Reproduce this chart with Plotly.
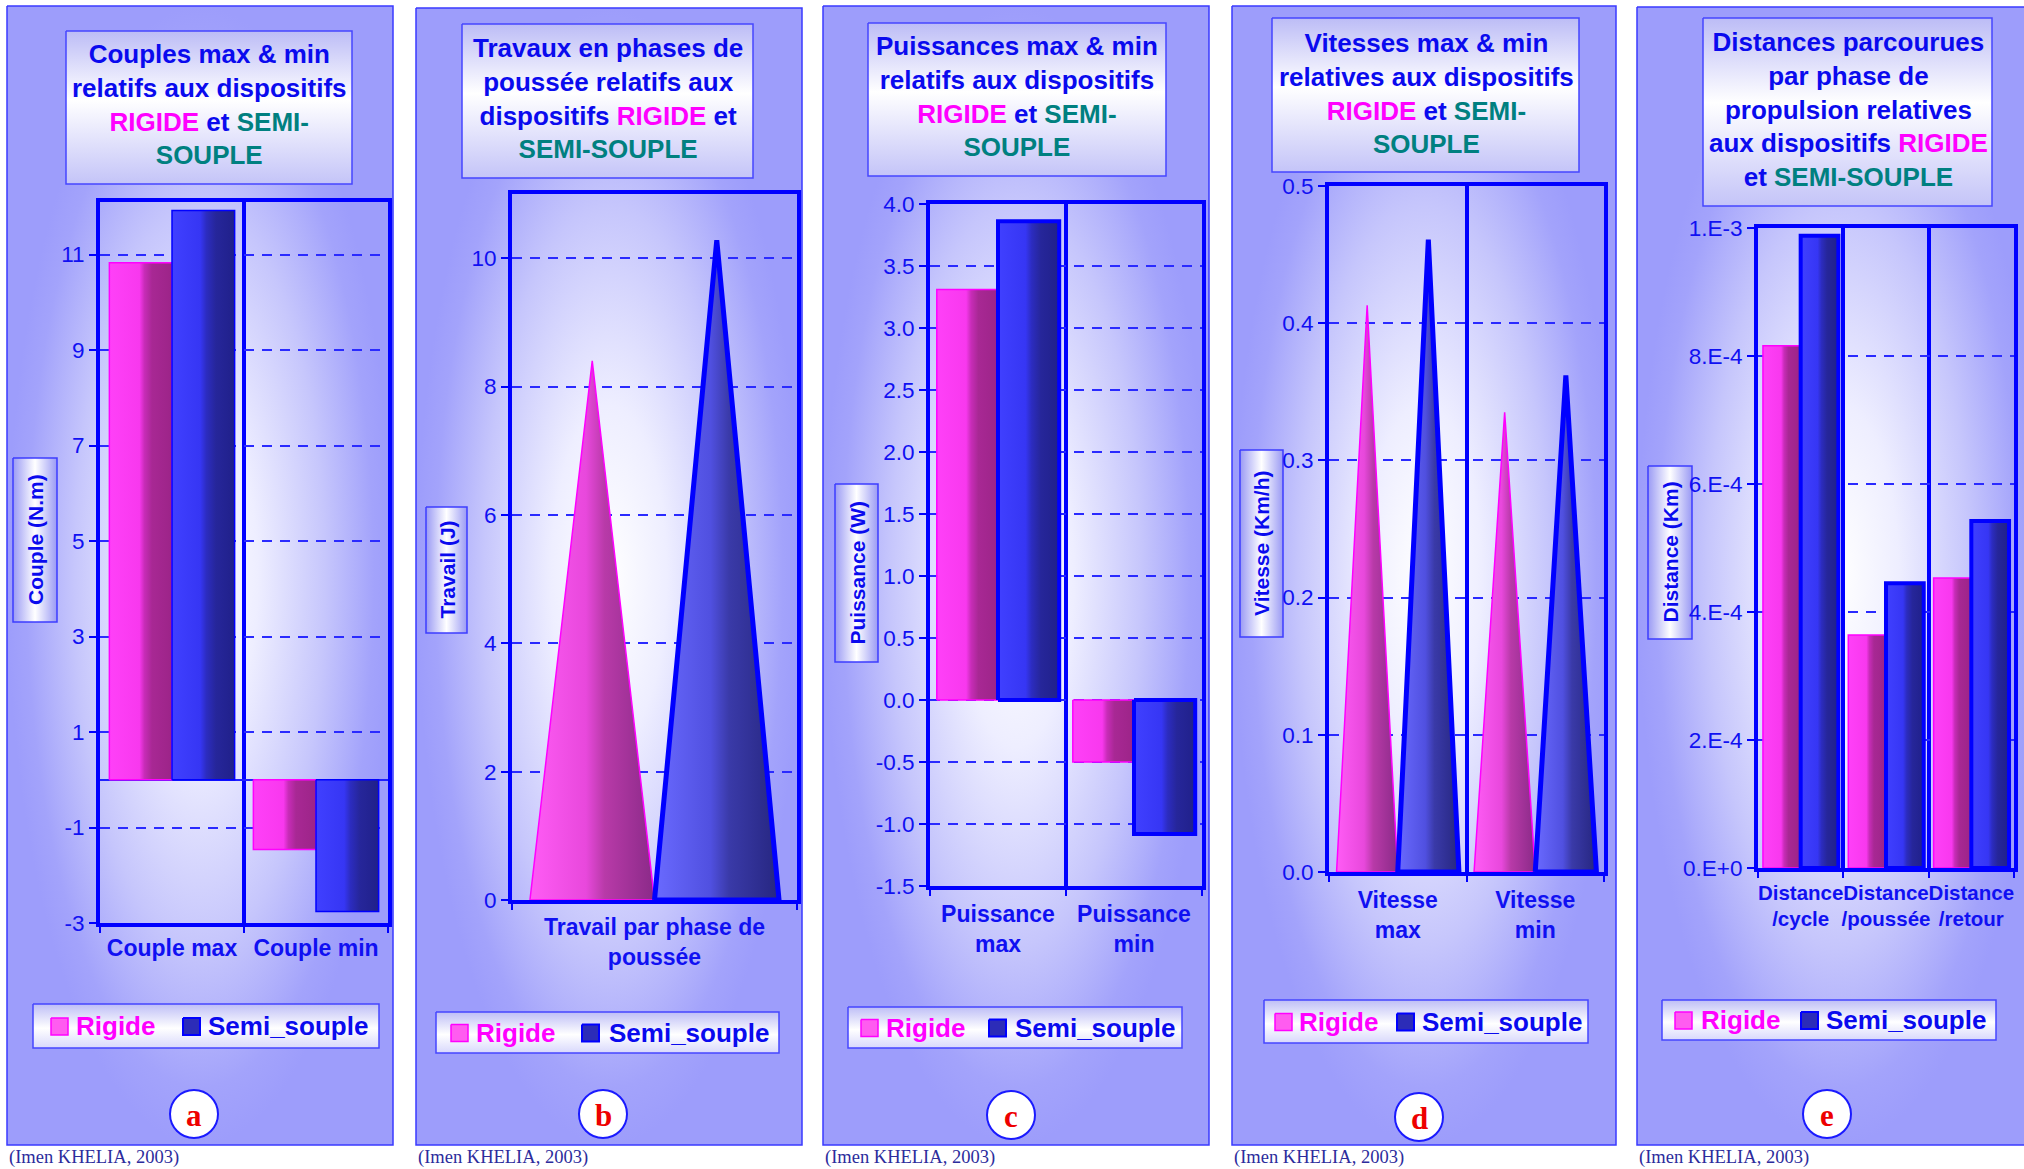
import plotly.graph_objects as go

W, H = 2024, 1169
SANS = "Liberation Sans, Arial, sans-serif"
SERIF = "Liberation Serif, Times New Roman, serif"
BLUE = "#0000ff"
TXT_BLUE = "#1010f2"
MAGENTA = "#ff00ff"
TEAL = "#008080"

# ------------------------------------------------------------------ data
series_names = ["Rigide", "Semi_souple"]

couple_categories = ["Couple max", "Couple min"]
couple_rigide = [10.83, -1.46]
couple_semi_souple = [11.92, -2.76]
couple_ticks = [-3, -1, 1, 3, 5, 7, 9, 11]
couple_tick_labels = ["-3", "-1", "1", "3", "5", "7", "9", "11"]

travail_categories = ["Travail par phase de\npoussée"]
travail_rigide = [8.40]
travail_semi_souple = [10.28]
travail_ticks = [0, 2, 4, 6, 8, 10]
travail_tick_labels = ["0", "2", "4", "6", "8", "10"]

puissance_categories = ["Puissance\nmax", "Puissance\nmin"]
puissance_rigide = [3.31, -0.50]
puissance_semi_souple = [3.86, -1.08]
puissance_ticks = [-1.5, -1.0, -0.5, 0.0, 0.5, 1.0, 1.5, 2.0, 2.5, 3.0, 3.5, 4.0]
puissance_tick_labels = ["-1.5", "-1.0", "-0.5", "0.0", "0.5", "1.0", "1.5",
                         "2.0", "2.5", "3.0", "3.5", "4.0"]

vitesse_categories = ["Vitesse\nmax", "Vitesse\nmin"]
vitesse_rigide = [0.413, 0.335]
vitesse_semi_souple = [0.461, 0.362]
vitesse_ticks = [0.0, 0.1, 0.2, 0.3, 0.4, 0.5]
vitesse_tick_labels = ["0.0", "0.1", "0.2", "0.3", "0.4", "0.5"]

distance_categories = ["Distance\n/cycle", "Distance\n/poussée", "Distance\n/retour"]
distance_rigide = [8.16e-4, 3.64e-4, 4.53e-4]
distance_semi_souple = [9.88e-4, 4.45e-4, 5.42e-4]
distance_ticks = [0, 2e-4, 4e-4, 6e-4, 8e-4, 1e-3]
distance_tick_labels = ["0.E+0", "2.E-4", "4.E-4", "6.E-4", "8.E-4", "1.E-3"]

R = f'<span style="color:{MAGENTA}">RIGIDE</span>'
S = lambda t: f'<span style="color:{TEAL}">{t}</span>'
panel_titles = [
    f"Couples max &amp; min<br>relatifs aux dispositifs<br>{R} et {S('SEMI-')}<br>{S('SOUPLE')}",
    f"Travaux en phases de<br>poussée relatifs aux<br>dispositifs {R} et<br>{S('SEMI-SOUPLE')}",
    f"Puissances max &amp; min<br>relatifs aux dispositifs<br>{R} et {S('SEMI-')}<br>{S('SOUPLE')}",
    f"Vitesses max &amp; min<br>relatives aux dispositifs<br>{R} et {S('SEMI-')}<br>{S('SOUPLE')}",
    f"Distances parcourues<br>par phase de<br>propulsion relatives<br>aux dispositifs {R}<br>et {S('SEMI-SOUPLE')}",
]
y_titles = ["Couple (N.m)", "Travail (J)", "Puissance (W)", "Vitesse (Km/h)", "Distance (Km)"]
panel_letters = ["a", "b", "c", "d", "e"]
source_note = "(Imen KHELIA, 2003)"

datasets = [
    (couple_categories, couple_rigide, couple_semi_souple, couple_ticks, couple_tick_labels),
    (travail_categories, travail_rigide, travail_semi_souple, travail_ticks, travail_tick_labels),
    (puissance_categories, puissance_rigide, puissance_semi_souple, puissance_ticks, puissance_tick_labels),
    (vitesse_categories, vitesse_rigide, vitesse_semi_souple, vitesse_ticks, vitesse_tick_labels),
    (distance_categories, distance_rigide, distance_semi_souple, distance_ticks, distance_tick_labels),
]

# ------------------------------------------------------------------ layout geometry (pixels)
PANELS = [
    dict(frame=(7, 6, 393, 1145), tbox=(66, 31, 352, 184), tc=(209, 104), plot=(100, 202, 388, 923),
         yr=(-3, 12.1), ybox=(13, 458, 57, 622), leg=(33, 1004, 379, 1048), sq=(51, 183), tx=(74, 206),
         circ=(194, 1114), kind="bar", gap=0.13, semi_lw=1.5, zero=True, xstand=1, xfs=23),
    dict(frame=(416, 8, 802, 1145), tbox=(462, 24, 753, 178), tc=(608, 98.5), plot=(512, 194, 797, 900),
         yr=(0, 11.0), ybox=(426, 507, 467, 633), leg=(436, 1012, 779, 1053), sq=(451, 582), tx=(474, 607),
         circ=(603, 1114), kind="tri", gap=0.126, semi_lw=5, zero=False, xstand=3, xfs=23),
    dict(frame=(823, 6, 1209, 1145), tbox=(868, 23, 1166, 176), tc=(1017, 96), plot=(930, 204, 1202, 886),
         yr=(-1.5, 4.0), ybox=(835, 484, 878, 662), leg=(848, 1007, 1182, 1048), sq=(861, 989), tx=(884, 1013),
         circ=(1011, 1115), kind="bar", gap=0.10, semi_lw=4, zero=False, xstand=4, xfs=23),
    dict(frame=(1232, 6, 1616, 1145), tbox=(1272, 18, 1579, 172), tc=(1426, 93), plot=(1329, 186, 1604, 872),
         yr=(0, 0.5), ybox=(1240, 450, 1283, 637), leg=(1264, 1000, 1588, 1043), sq=(1275, 1397), tx=(1297, 1420),
         circ=(1419, 1117), kind="tri", gap=0.11, semi_lw=5, zero=False, xstand=4, xfs=23),
    dict(frame=(1637, 7, 2040, 1145), tbox=(1703, 18, 1992, 206), tc=(1848, 109.5), plot=(1758, 228, 2014, 868),
         yr=(0, 1e-3), ybox=(1648, 466, 1692, 639), leg=(1662, 1000, 1996, 1040), sq=(1675, 1801), tx=(1699, 1824),
         circ=(1827, 1114), kind="bar", gap=0.116, semi_lw=4, zero=False, xstand=3, xfs=20.5),
]

BG_SCALE = [[0, "#ffffff"], [0.3, "#eeeeff"], [0.65, "#c6c6fc"], [0.9, "#a3a3fb"], [1, "#9d9dfb"]]
TITLE_SCALE = [[0, "#c4c4f8"], [0.55, "#ffffff"], [1, "#bcbcf6"]]
YT_SCALE = [[0, "#9a9af4"], [0.5, "#ffffff"], [1, "#9a9af4"]]
LEG_SCALE = [[0, "#d8d8fc"], [0.45, "#ffffff"], [1, "#bebef6"]]
BAR_PINK = [[0, "#ff40f8"], [0.48, "#f838ee"], [0.56, "#c82cb8"], [0.68, "#a82894"], [1, "#9c2488"]]
BAR_BLUE = [[0, "#4040ff"], [0.45, "#3636f4"], [0.55, "#2c2cc0"], [0.7, "#26269a"], [1, "#20208a"]]
TRI_PINK = [[0, "#ff5cf5"], [0.45, "#e848dc"], [0.6, "#b83aa8"], [1, "#8a2a88"]]
TRI_BLUE = [[0, "#6a6aff"], [0.45, "#5050e0"], [0.6, "#3a3aa8"], [1, "#262680"]]

traces, annotations, shapes = [], [], []


def page_rect(x0, y0, x1, y1, scale=None, gtype=None, fill=None, lc=None, lw=0):
    kw = dict(x=[x0, x1, x1, x0, x0], y=[y0, y0, y1, y1, y0], xaxis="x", yaxis="y",
              mode="lines", fill="toself", hoverinfo="skip", showlegend=False,
              line=dict(color=lc or "rgba(0,0,0,0)", width=lw))
    if scale is not None:
        kw["fillgradient"] = dict(type=gtype, colorscale=scale)
        kw["fillcolor"] = scale[-1][1]
    else:
        kw["fillcolor"] = fill
    traces.append(go.Scatter(**kw))


layout_axes = {}
for p, (P, (cats, rig, semi, tvals, tlabels)) in enumerate(zip(PANELS, datasets)):
    j = p + 2
    fx0, fy0, fx1, fy1 = P["frame"]
    page_rect(fx0, fy0, fx1, fy1, BG_SCALE, "radial", lc="#3a3aff", lw=1.5)
    page_rect(*P["tbox"], TITLE_SCALE, "vertical", lc="#4646ff", lw=1.5)
    page_rect(*P["ybox"], YT_SCALE, "horizontal", lc="#3c3cff", lw=1.5)
    lx0, ly0, lx1, ly1 = P["leg"]
    page_rect(lx0, ly0, lx1, ly1, LEG_SCALE, "vertical", lc="#4646ff", lw=1.5)
    lyc = (ly0 + ly1) / 2
    page_rect(P["sq"][0], lyc - 8, P["sq"][0] + 17, lyc + 9, fill="#ff5cf0", lc=MAGENTA, lw=1.5)
    page_rect(P["sq"][1], lyc - 8, P["sq"][1] + 17, lyc + 9, fill="#2c2cb8", lc=BLUE, lw=2)

    # ---- data marks (bars / pyramids) built from the data arrays in axis units
    half = (1 - P["gap"]) / 2
    for k, vals in enumerate([rig, semi]):
        if P["kind"] == "bar":
            cs = BAR_PINK if k == 0 else BAR_BLUE
        else:
            cs = TRI_PINK if k == 0 else TRI_BLUE
        lc = MAGENTA if k == 0 else BLUE
        lw = 1.5 if k == 0 else P["semi_lw"]
        for i, v in enumerate(vals):
            left = i - half if k == 0 else i
            right = left + half
            if P["kind"] == "bar":
                xs = [left, left, right, right, left]
                ys = [0, v, v, 0, 0]
            else:
                xs = [left, (left + right) / 2, right, left]
                ys = [0, v, 0, 0]
            traces.append(go.Scatter(
                x=xs, y=ys, xaxis=f"x{j}", yaxis=f"y{j}", mode="lines", fill="toself",
                fillgradient=dict(type="horizontal", colorscale=cs), fillcolor=cs[1][1],
                line=dict(color=lc, width=lw), name=series_names[k],
                hoverinfo="skip", showlegend=False))

    px0, py0, px1, py1 = P["plot"]
    n = len(cats)
    layout_axes[f"xaxis{j}"] = dict(
        domain=[px0 / W, px1 / W], anchor=f"y{j}", range=[-0.5, n - 0.5],
        tickmode="array", tickvals=list(range(n)), ticktext=[c.replace("\n", "<br>") for c in cats],
        tickangle=0, ticks="", showgrid=False, zeroline=False, automargin=False,
        tickfont=dict(family=SANS, size=P["xfs"], color=TXT_BLUE, weight="bold"),
        ticklabelstandoff=P["xstand"],
        showline=True, linecolor=BLUE, linewidth=4, mirror=True,
        minor=dict(tickmode="linear", tick0=-0.5, dtick=1, showgrid=True, gridcolor=BLUE, gridwidth=4,
                   ticks="outside", ticklen=6, tickwidth=2, tickcolor=BLUE),
        fixedrange=True)
    layout_axes[f"yaxis{j}"] = dict(
        domain=[1 - py1 / H, 1 - py0 / H], anchor=f"x{j}", range=list(P["yr"]),
        tickmode="array", tickvals=tvals, ticktext=tlabels, automargin=False,
        ticks="outside", ticklen=7, tickwidth=2, tickcolor=BLUE, ticklabelstandoff=0,
        tickfont=dict(family=SANS, size=22.5, color=TXT_BLUE),
        showgrid=True, gridcolor="#2a2aff", gridwidth=1.6, griddash="10px,8px",
        zeroline=P["zero"], zerolinecolor="#2020ff", zerolinewidth=1.5,
        showline=True, linecolor=BLUE, linewidth=4, mirror=True, fixedrange=True)

    # ---- texts
    annotations.append(dict(x=P["tc"][0], y=P["tc"][1], xref="x", yref="y", text=panel_titles[p],
                            showarrow=False, xanchor="center", yanchor="middle", align="center",
                            font=dict(family=SANS, size=26, color="#0a0aee", weight="bold")))
    bx0, by0, bx1, by1 = P["ybox"]
    annotations.append(dict(x=(bx0 + bx1) / 2, y=(by0 + by1) / 2, xref="x", yref="y", text=y_titles[p],
                            showarrow=False, textangle=-90, xanchor="center", yanchor="middle",
                            font=dict(family=SANS, size=21, color="#0a0aee", weight="bold")))
    annotations.append(dict(x=P["tx"][0], y=lyc, xref="x", yref="y", text=series_names[0],
                            showarrow=False, xanchor="left", yanchor="middle",
                            font=dict(family=SANS, size=26, color=MAGENTA, weight="bold")))
    annotations.append(dict(x=P["tx"][1], y=lyc, xref="x", yref="y", text=series_names[1],
                            showarrow=False, xanchor="left", yanchor="middle",
                            font=dict(family=SANS, size=26, color="#0a0aee", weight="bold")))
    cx, cy = P["circ"]
    shapes.append(dict(type="circle", xref="x", yref="y", x0=cx - 24, x1=cx + 24, y0=cy - 24, y1=cy + 24,
                       fillcolor="#ffffff", line=dict(color="#1a1aff", width=2), layer="above"))
    annotations.append(dict(x=cx, y=cy + 1, xref="x", yref="y", text=panel_letters[p], showarrow=False,
                            xanchor="center", yanchor="middle",
                            font=dict(family=SERIF, size=31, color="#ee0000", weight="bold")))
    annotations.append(dict(x=fx0, y=1157, xref="x", yref="y", text=source_note, showarrow=False,
                            xanchor="left", yanchor="middle",
                            font=dict(family=SERIF, size=18.5, color="#2c2c9c")))

fig = go.Figure(traces)
fig.update_layout(
    width=W, height=H, autosize=False,
    margin=dict(l=0, r=0, t=0, b=0, pad=0, autoexpand=False),
    paper_bgcolor="#ffffff", plot_bgcolor="rgba(0,0,0,0)",
    showlegend=False, hovermode=False,
    xaxis=dict(domain=[0, 1], range=[0, W], visible=False, fixedrange=True, anchor="y", automargin=False),
    yaxis=dict(domain=[0, 1], range=[H, 0], visible=False, fixedrange=True, anchor="x", automargin=False),
    annotations=annotations, shapes=shapes,
    **layout_axes,
)

fig.write_html("out.html", config={"displayModeBar": False, "responsive": False},
               post_script="document.body.style.margin='0px';document.body.style.overflow='hidden';")
